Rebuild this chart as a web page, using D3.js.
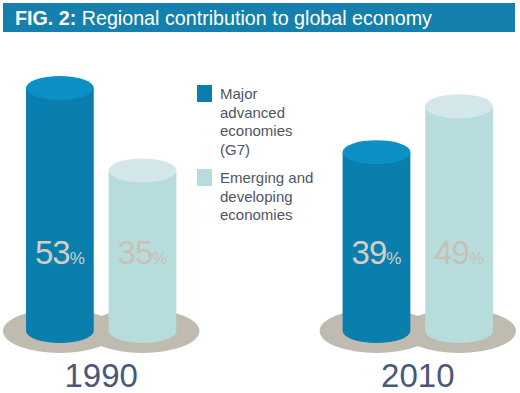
<!DOCTYPE html>
<html><head><meta charset="utf-8">
<script src="https://cdn.jsdelivr.net/npm/d3@7"></script>
<style>body{margin:0;background:#fff}svg{display:block}</style>
</head><body>
<script>
const years = ["1990", "2010"];
const seriesNames = ["Major advanced economies (G7)", "Emerging and developing economies"];
const g7Values = [53, 39];
const emergingValues = [35, 49];
const legendLines = [["Major", "advanced", "economies", "(G7)"], ["Emerging and", "developing", "economies"]];

const W = 520, H = 393;
const svg = d3.select("body").append("svg").attr("width", W).attr("height", H);

// title bar
svg.append("rect").attr("x", 3).attr("y", 3).attr("width", 512).attr("height", 29).attr("fill", "#1580ad");
const tt = svg.append("text").attr("x", 15).attr("y", 25).attr("fill", "#fff")
  .attr("font-family", "Liberation Sans, Arial, sans-serif").attr("font-size", 19.7);
tt.append("tspan").attr("font-weight", "bold").text("FIG. 2:");
tt.append("tspan").text(" Regional contribution to global economy");

const sideCol = ["#0a7eac", "#b7dcdc"], topCol = ["#0c90c6", "#d3e7eb"];
const labCol = ["#d2cec6", "#c8c1b5"];

const x0 = d3.scaleBand().domain(years).range([26, 493]).paddingInner(0.525).paddingOuter(0);
const x1 = d3.scaleBand().domain([0, 1]).range([0, x0.bandwidth()]).paddingInner(0.18).paddingOuter(0);
const y = d3.scaleLinear().domain([0, 53]).range([331, 88]);
const ry = 12;

years.forEach((yr, i) => {
  const g = svg.append("g").attr("transform", `translate(${x0(yr)},0)`);
  const vals = [g7Values[i], emergingValues[i]];
  // shadows
  [0, 1].forEach(s => {
    const cx = x1(s) + x1.bandwidth() / 2;
    g.append("ellipse").attr("cx", cx).attr("cy", 331).attr("rx", x1.bandwidth() / 2 + 23).attr("ry", 22).attr("fill", "#bfbbb0");
  });
  [0, 1].forEach(s => {
    const bx = x1(s), bw = x1.bandwidth(), rx = bw / 2, cx = bx + rx;
    const yt = y(vals[s]), yb = y(0);
    g.append("path").attr("d",
      `M${bx},${yt} L${bx},${yb} A${rx},${ry} 0 0 0 ${bx + bw},${yb} L${bx + bw},${yt} Z`).attr("fill", sideCol[s]);
    g.append("ellipse").attr("cx", cx).attr("cy", yt).attr("rx", rx).attr("ry", ry).attr("fill", topCol[s]);
    const t = g.append("text").attr("x", cx).attr("y", 264).attr("text-anchor", "middle")
      .attr("font-family", "Liberation Sans, Arial, sans-serif").attr("fill", labCol[s]);
    t.append("tspan").attr("font-size", 33).attr("letter-spacing", -1).text(vals[s]);
    t.append("tspan").attr("font-size", 17).text("%");
  });
  g.append("text").attr("x", x0.bandwidth() / 2).attr("y", 387).attr("text-anchor", "middle")
    .attr("font-family", "Liberation Sans, Arial, sans-serif").attr("font-size", 33).attr("fill", "#4a5878").text(yr);
});

// legend
const leg = svg.append("g");
[0, 1].forEach(s => {
  const y0 = s === 0 ? 85 : 169;
  leg.append("rect").attr("x", 197).attr("y", y0).attr("width", 15).attr("height", 17).attr("fill", s === 0 ? sideCol[0] : "#b7dcdc");
  const t = leg.append("text").attr("font-family", "Liberation Sans, Arial, sans-serif").attr("font-size", 15).attr("fill", "#4f5566");
  legendLines[s].forEach((ln, k) => {
    t.append("tspan").attr("x", 220).attr("y", y0 + 14 + k * 18.5).text(ln);
  });
});
</script>
</body></html>
